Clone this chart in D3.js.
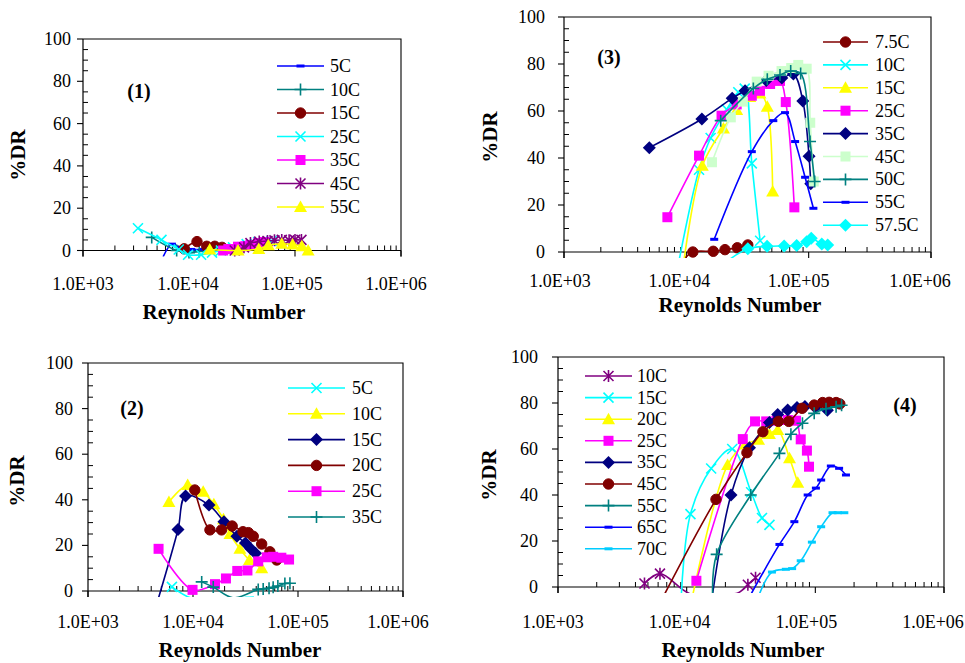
<!DOCTYPE html>
<html><head><meta charset="utf-8">
<script src="https://cdn.jsdelivr.net/npm/d3@7"></script>
<style>
body{margin:0;background:#fff}
svg{display:block}
</style>
</head><body>
<svg id="chart" width="965" height="663"></svg>
<script>
// ---- axis ticks ----
const xTickValues = [1e3, 1e4, 1e5, 1e6];
const xTickLabels = ["1.0E+03", "1.0E+04", "1.0E+05", "1.0E+06"];
const yTickValues = [0, 20, 40, 60, 80, 100];

// ---- panel (1) : [Reynolds number, %DR] ----
const p1Names = ["5C", "10C", "15C", "25C", "35C", "45C", "55C"];
const p1_5C  = [[5700,-3],[6900,3],[8500,1],[10500,0.5],[13500,0.5]];
const p1_10C = [[4450,6.2],[7650,0],[10000,-1],[12500,-0.5]];
const p1_15C = [[9000,0.8],[11900,4.2],[14700,2],[17500,2],[20500,1.5]];
const p1_25C = [[3300,10.5],[5500,5],[8000,0.5],[9800,-2],[13000,-2],[16500,-1],[20000,0],[26000,1.5],[35000,3],[45000,4],[60000,4.5]];
const p1_35C = [[21000,0],[23500,0.7],[29000,1.8],[34000,2],[38000,2.6],[45000,3.5],[52000,4]];
const p1_45C = [[27000,0],[33000,1.5],[38000,3.5],[46000,4.2],[55000,4.5],[64000,4.8],[75000,5],[88000,4.8],[100000,5],[115000,5]];
const p1_55C = [[15700,0.5],[29000,0],[45500,0.7],[56000,2.5],[75000,3.2],[95000,2.8],[116000,2],[133000,0]];

// ---- panel (2) ----
const p2Names = ["5C", "10C", "15C", "20C", "25C", "35C"];
const p2_5C  = [[6300,1.8],[9500,-3],[15000,-3.5],[22000,-3.5],[32000,-2.8],[38000,-2.6]];
const p2_10C = [[5900,39],[8900,46.5],[12500,43.5],[15800,38],[19500,31.5],[22500,25],[28000,18.5],[34500,13.6],[45100,10]];
const p2_15C = [[4700,-3],[7200,27],[8500,41.7],[14200,37.7],[19700,30.4],[26200,24],[31600,21],[35500,18.5],[39400,16.6]];
const p2_20C = [[10400,44.3],[14500,26.8],[18700,26.8],[23600,28.5],[29900,26],[33700,25.6],[37500,24],[45100,20.6],[54000,17.2],[62700,13.6]];
const p2_25C = [[4700,18.5],[9900,0.5],[16200,3],[20600,5.5],[26400,8.8],[33000,9],[41800,13],[50400,14.8],[58000,15],[69400,14.6],[82200,13.8]];
const p2_35C = [[12100,4],[15600,1.7],[24200,-3],[41800,0.7],[46600,0.9],[53000,1.2],[58000,1.6],[64300,2.2],[75000,3.3],[83800,3.4]];

// ---- panel (3) ----
const p3Names = ["7.5C", "10C", "15C", "25C", "35C", "45C", "50C", "55C", "57.5C"];
const p3_7_5C = [[9600,-3],[11300,0],[16600,0.3],[20700,1],[26100,1.8],[31800,3]];
const p3_10C  = [[8770,-3],[12700,35],[15800,48.5],[21400,60.7],[26600,68],[30000,69.5],[34300,37.7],[40100,4.8]];
const p3_15C  = [[9600,-3],[13500,36.7],[20100,52.6],[25800,60.4],[33000,66],[40000,67.5],[45900,61.8],[50800,25.7]];
const p3_25C  = [[7000,14.8],[12700,41],[19400,58],[25800,62.8],[34300,66.5],[40000,68.6],[48400,71.5],[58300,72.8],[65000,63.8],[76400,19]];
const p3_35C  = [[4980,44.4],[13400,56.6],[23700,65.4],[30200,68.6],[45000,73],[60300,74],[75000,75.7],[89600,64.3],[100700,40.7],[104000,29]];
const p3_45C  = [[16200,38.2],[23100,57.3],[29000,64],[37600,72.5],[47000,75],[60000,77],[72000,78.3],[82200,79.6],[96300,78],[103000,55],[110000,30]];
const p3_50C  = [[19100,55.9],[35300,69.6],[45900,73.5],[58300,75.3],[71300,77],[86000,76],[102600,47],[112000,30]];
const p3_55C  = [[16900,5.4],[34300,42.7],[51400,55.9],[64100,59.3],[77500,47],[93500,31.8],[109300,18.6]];
const p3_57_5C = [[22800,-3],[31800,1.4],[45700,2.4],[63000,2.6],[79800,2.8],[96300,4.4],[105000,5.8],[128000,3.4],[143000,3]];

// ---- panel (4) ----
const p4Names = ["10C", "15C", "20C", "25C", "35C", "45C", "55C", "65C", "70C"];
const p4_10C = [[4700,1.5],[6200,5.8],[10500,-2.8],[17000,-3],[25000,-2.6],[29900,1],[34300,4]];
const p4_15C = [[9100,-3],[10700,31.7],[15500,51.5],[22600,60],[31700,41.2],[38500,30],[44000,27]];
const p4_20C = [[11200,-3],[20800,53],[28500,62],[36200,64],[44000,66.5],[51000,68.3],[63000,56],[73000,45.3]];
const p4_25C = [[11900,2.7],[27300,64.3],[34000,72],[41500,72],[50000,72.3],[61000,72.6],[70700,72.3],[77000,64.2],[86000,59.3],[89300,52.3]];
const p4_35C = [[15900,-3],[22100,40],[30800,60.5],[44000,71.5],[51000,75],[61000,77],[72000,78],[83000,78.5],[100000,78],[124000,76.8]];
const p4_45C = [[6750,-3],[16900,38.1],[29400,58.4],[39100,67.5],[51600,72],[62200,72],[78900,77.7],[98000,79.1],[114000,80.2],[128000,80.3],[145000,80.2],[155000,79.6]];
const p4_55C = [[15900,-3],[17100,14.2],[31500,40],[52600,58.1],[64600,66.4],[79400,71.2],[98000,75.5],[121000,77.5],[145000,78.4],[160000,79]];
const p4_65C = [[31700,-3],[52600,18.5],[68700,28.4],[87200,40],[101000,43],[111000,46.5],[132000,52.6],[153000,51.6],[173000,48.7]];
const p4_70C = [[36800,-3],[46000,6.5],[59000,7.7],[66000,8],[77000,11.4],[94000,19.5],[111000,26.2],[136000,32.3],[150000,32.3],[168000,32.3]];

// ---- series styling ----
const C = {
  blue: "#0000FF", teal: "#008080", maroon: "#800000", cyan: "#00FFFF",
  magenta: "#FF00FF", purple: "#800080", yellow: "#FFFF00", navy: "#000080",
  mint: "#CCFFCC", sky: "#00CCFF"
};
const FONT = "'Liberation Serif', 'Times New Roman', 'DejaVu Serif', serif";

const panels = [
  {
    tag: "(1)", tagAt: [139, 98],
    box: { l: 83, r: 401, t: 39, b: 250.5 },
    yTitle: [18, 155], xTitle: [224, 319], yLabGap: 12, xLabY: 289.5,
    xLabDx: [0, -1, -3, -5],
    legend: { x1: 277, x2: 324, tx: 330, y0: 66, dy: 23.5 },
    names: p1Names,
    data: [p1_5C, p1_10C, p1_15C, p1_25C, p1_35C, p1_45C, p1_55C],
    style: [[C.blue,"dash"],[C.teal,"plus"],[C.maroon,"circle"],[C.cyan,"x"],[C.magenta,"square"],[C.purple,"star"],[C.yellow,"triangle"]]
  },
  {
    tag: "(2)", tagAt: [132, 415],
    box: { l: 88, r: 403, t: 363, b: 591 },
    yTitle: [17, 481], xTitle: [240, 657], yLabGap: 15, xLabY: 628,
    xLabDx: [0, 0, 0, -5],
    legend: { x1: 288, x2: 345, tx: 352, y0: 388, dy: 25.8 },
    names: p2Names,
    data: [p2_5C, p2_10C, p2_15C, p2_20C, p2_25C, p2_35C],
    style: [[C.cyan,"x"],[C.yellow,"triangle"],[C.navy,"diamond"],[C.maroon,"circle"],[C.magenta,"square"],[C.teal,"plus"]]
  },
  {
    tag: "(3)", tagAt: [609, 64],
    box: { l: 564, r: 931, t: 17, b: 252 },
    yTitle: [490, 137], xTitle: [740, 312], yLabGap: 19, xLabY: 287,
    xLabDx: [-4, -7, -10, -11],
    legend: { x1: 823, x2: 868, tx: 875, y0: 42, dy: 22.9 },
    names: p3Names,
    data: [p3_7_5C, p3_10C, p3_15C, p3_25C, p3_35C, p3_45C, p3_50C, p3_55C, p3_57_5C],
    style: [[C.maroon,"circle"],[C.cyan,"x"],[C.yellow,"triangle"],[C.magenta,"square"],[C.navy,"diamond"],[C.mint,"square"],[C.teal,"plus"],[C.blue,"dash"],[C.cyan,"diamond"]]
  },
  {
    tag: "(4)", tagAt: [905, 412],
    box: { l: 558, r: 944, t: 357, b: 587 },
    yTitle: [489, 475], xTitle: [743, 657], yLabGap: 20, xLabY: 628,
    xLabDx: [-5, -7, -9, -11],
    legend: { x1: 585, x2: 632, tx: 637, y0: 376, dy: 21.6 },
    names: p4Names,
    data: [p4_10C, p4_15C, p4_20C, p4_25C, p4_35C, p4_45C, p4_55C, p4_65C, p4_70C],
    style: [[C.purple,"star"],[C.cyan,"x"],[C.yellow,"triangle"],[C.magenta,"square"],[C.navy,"diamond"],[C.maroon,"circle"],[C.teal,"plus"],[C.blue,"dash"],[C.sky,"dash"]]
  }
];

const svg = d3.select("#chart");
svg.append("rect").attr("width", 965).attr("height", 663).attr("fill", "#fff");

function txt(g, x, y, s, size, opts = {}) {
  const t = g.append("text").attr("x", x).attr("y", y)
    .attr("font-family", FONT).attr("font-size", size).attr("fill", "#000")
    .attr("text-anchor", opts.anchor || "start").text(s);
  if (opts.bold) t.attr("font-weight", "bold");
  if (opts.transform) t.attr("transform", opts.transform);
  return t;
}

// Draws one marker symbol centred on (x, y)
function marker(g, kind, color, x, y) {
  const m = g.append("g").attr("transform", `translate(${x},${y})`);
  switch (kind) {
    case "circle":
      m.append("circle").attr("r", 5.2).attr("fill", color).attr("stroke", color);
      break;
    case "square":
      m.append("rect").attr("x", -5).attr("y", -5).attr("width", 10).attr("height", 10).attr("fill", color);
      break;
    case "diamond":
      m.append("path").attr("d", "M0,-6.5L6.5,0L0,6.5L-6.5,0Z").attr("fill", color);
      break;
    case "triangle":
      m.append("path").attr("d", "M0,-6.5L6.5,5L-6.5,5Z").attr("fill", color);
      break;
    case "x":
      m.append("path").attr("d", "M-5,-5L5,5M5,-5L-5,5").attr("stroke", color).attr("stroke-width", 1.6).attr("fill", "none");
      break;
    case "plus":
      m.append("path").attr("d", "M0,-6L0,6M-6,0L6,0").attr("stroke", color).attr("stroke-width", 1.6).attr("fill", "none");
      break;
    case "star":
      m.append("path").attr("d", "M-5,-5L5,5M5,-5L-5,5M0,-6L0,6").attr("stroke", color).attr("stroke-width", 1.6).attr("fill", "none");
      break;
    case "dash":
      m.append("rect").attr("x", -4).attr("y", -1.5).attr("width", 8).attr("height", 3).attr("fill", color);
      break;
  }
}

panels.forEach((p, pi) => {
  const { l, r, t, b } = p.box;
  const x = d3.scaleLog().domain([1e3, 1e6]).range([l, r]);
  const y = d3.scaleLinear().domain([0, 100]).range([b, t]);
  const g = svg.append("g");

  // frame: top and right edges
  g.append("path").attr("d", `M${l},${t}H${r}V${b + 6}`).attr("fill", "none").attr("stroke", "#000").attr("stroke-width", 1.1);
  // left axis and y ticks
  g.append("line").attr("x1", l).attr("x2", l).attr("y1", t).attr("y2", b + 6).attr("stroke", "#000").attr("stroke-width", 1.2);
  d3.range(0, 101, 5).forEach(v => {
    const yy = y(v);
    if (v % 20 === 0) {
      g.append("line").attr("x1", l - 6).attr("x2", l).attr("y1", yy).attr("y2", yy).attr("stroke", "#000").attr("stroke-width", 1.1);
    } else {
      g.append("line").attr("x1", l).attr("x2", l + 5).attr("y1", yy).attr("y2", yy).attr("stroke", "#000").attr("stroke-width", 1);
    }
  });
  yTickValues.forEach(v => txt(g, l - p.yLabGap, y(v) + 6, v, 18, { anchor: "end" }));

  // bottom axis with log ticks
  g.append("line").attr("x1", l).attr("x2", r).attr("y1", b).attr("y2", b).attr("stroke", "#000").attr("stroke-width", 1.2);
  xTickValues.forEach((v, i) => {
    g.append("line").attr("x1", x(v)).attr("x2", x(v)).attr("y1", b).attr("y2", b + 6).attr("stroke", "#000").attr("stroke-width", 1.1);
    txt(g, x(v) + p.xLabDx[i], p.xLabY, xTickLabels[i], 18, { anchor: "middle" });
    if (i < 3) {
      for (let k = 2; k <= 9; k++) {
        const xx = x(v * k);
        g.append("line").attr("x1", xx).attr("x2", xx).attr("y1", b - 5).attr("y2", b).attr("stroke", "#000").attr("stroke-width", 1);
      }
    }
  });

  // titles
  txt(g, 0, 0, "%DR", 21, { anchor: "middle", bold: true,
    transform: `translate(${p.yTitle[0] + 7},${p.yTitle[1]}) rotate(-90)` });
  txt(g, p.xTitle[0], p.xTitle[1], "Reynolds Number", 21, { anchor: "middle", bold: true });
  txt(g, p.tagAt[0], p.tagAt[1], p.tag, 20, { anchor: "middle", bold: true });

  // series
  const clipId = "clip" + pi;
  svg.append("clipPath").attr("id", clipId).append("rect")
    .attr("x", l).attr("y", t - 10).attr("width", r - l).attr("height", b - t + 16);
  const line = d3.line().x(d => x(d[0])).y(d => y(d[1])).curve(d3.curveCatmullRom.alpha(0.5));
  const sg = g.append("g");
  p.data.forEach((vals, si) => {
    const [color, kind] = p.style[si];
    sg.append("path").attr("d", line(vals)).attr("clip-path", `url(#${clipId})`)
      .attr("fill", "none").attr("stroke", color).attr("stroke-width", 1.6);
    vals.forEach(d => { if (d[1] >= -2.5) marker(sg, kind, color, x(d[0]), y(d[1])); });
  });

  // legend
  const lg = g.append("g");
  p.names.forEach((name, si) => {
    const [color, kind] = p.style[si];
    const yy = p.legend.y0 + si * p.legend.dy;
    lg.append("line").attr("x1", p.legend.x1).attr("x2", p.legend.x2).attr("y1", yy).attr("y2", yy)
      .attr("stroke", color).attr("stroke-width", 1.6);
    marker(lg, kind, color, (p.legend.x1 + p.legend.x2) / 2, yy);
    txt(lg, p.legend.tx, yy + 6, name, 18);
  });
});
</script>
</body></html>
